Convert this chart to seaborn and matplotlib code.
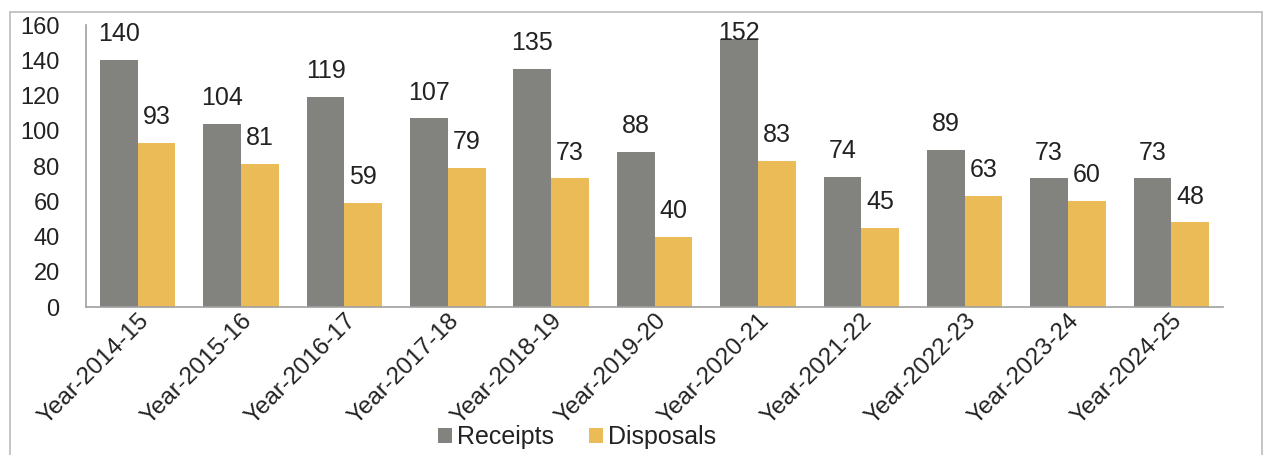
import matplotlib
matplotlib.use("Agg")
import matplotlib.pyplot as plt
import seaborn as sns
import pandas as pd
from matplotlib.patches import Rectangle

years = ["Year-2014-15", "Year-2015-16", "Year-2016-17", "Year-2017-18", "Year-2018-19",
         "Year-2019-20", "Year-2020-21", "Year-2021-22", "Year-2022-23", "Year-2023-24",
         "Year-2024-25"]
receipts = [140, 104, 119, 107, 135, 88, 152, 74, 89, 73, 73]
disposals = [93, 81, 59, 79, 73, 40, 83, 45, 63, 60, 48]
series = ["Receipts", "Disposals"]
colors = ["#82827E", "#EBBB58"]

df = pd.DataFrame({
    "year": years * 2,
    "value": receipts + disposals,
    "series": [series[0]] * len(years) + [series[1]] * len(years),
})

sns.set_theme(style="white")
plt.rcParams["font.family"] = ["Liberation Sans", "DejaVu Sans"]

fig = plt.figure(figsize=(12.66, 4.55), dpi=100)
ax = fig.add_axes([0.068, 0.325, 0.898, 0.62])

sns.barplot(data=df, x="year", y="value", hue="series", palette=colors,
            hue_order=series, order=years, width=0.73, saturation=1,
            linewidth=0, ax=ax, legend=True)

ax.set_ylim(0, 160)
for c in ax.containers:
    anns = ax.bar_label(c, padding=10, fontsize=18, color="#222222")
    for ann, bar in zip(anns, c):
        if bar.get_height() > 145:
            ann.xyann = (0, -4)

ax.set_yticks(range(0, 161, 20))
ax.set_xlim(-0.5, len(years) - 0.5)
ax.set_xlabel("")
ax.set_ylabel("")
ax.tick_params(axis="y", labelsize=17, length=0, pad=19, colors="#222222")
ax.tick_params(axis="x", labelsize=17.5, length=0, pad=2, colors="#222222")
plt.setp(ax.get_xticklabels(), rotation=45, ha="right", rotation_mode="anchor")

for s in ["top", "right"]:
    ax.spines[s].set_visible(False)
for s in ["left", "bottom"]:
    ax.spines[s].set_color("#A0A0A0")
    ax.spines[s].set_linewidth(1.2)

leg = ax.legend(loc="lower center", bbox_to_anchor=(0.456, -0.025), bbox_transform=fig.transFigure,
                ncol=2, frameon=False, fontsize=18, handlelength=0.55, handleheight=0.55,
                handletextpad=0.2, columnspacing=1.4, borderpad=0.2)
for t in leg.get_texts():
    t.set_color("#222222")

fig.patches.append(Rectangle((10 / 1266, -0.05), 1252 / 1266, 1.05 - 12 / 455,
                             transform=fig.transFigure, fill=False,
                             edgecolor="#BBBBBB", linewidth=1.2))

fig.savefig("out.png", dpi=100)
